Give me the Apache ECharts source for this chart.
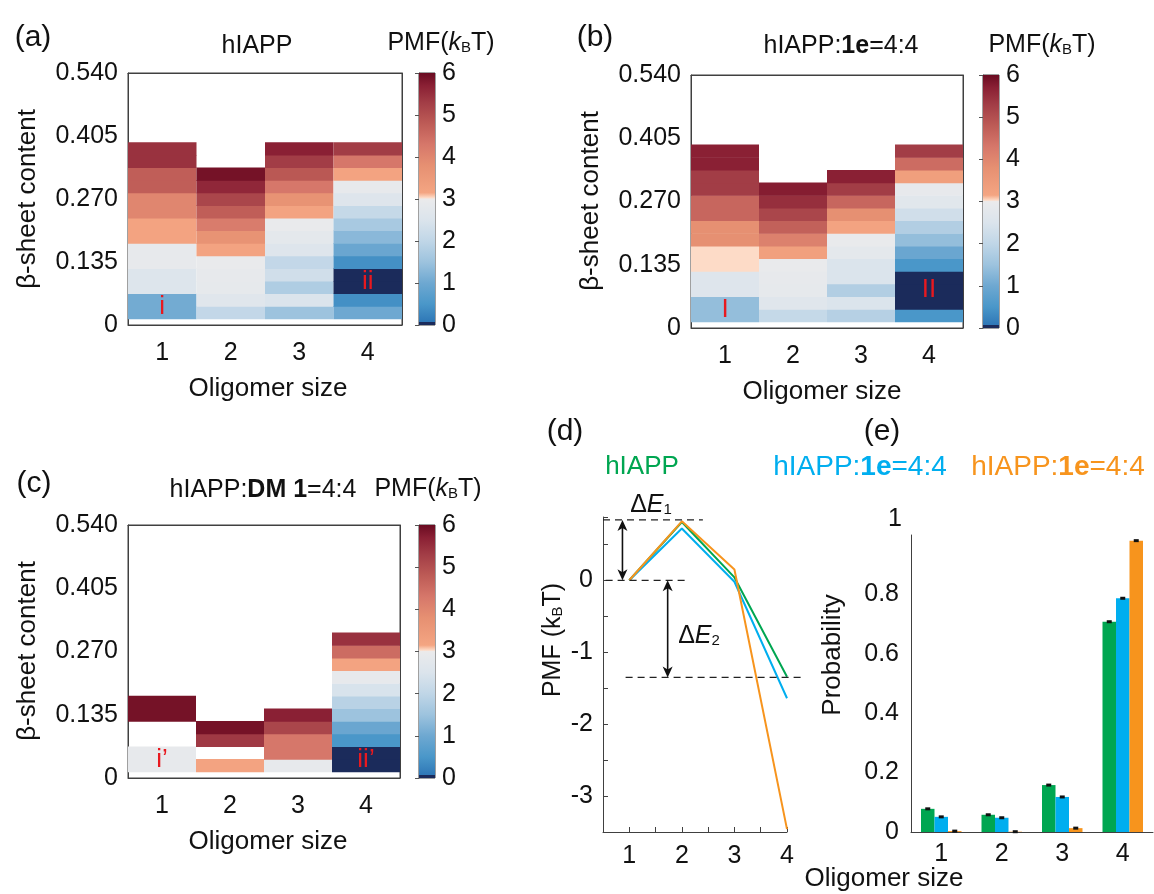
<!DOCTYPE html>
<html>
<head>
<meta charset="utf-8">
<title>hIAPP oligomer PMF</title>
<script src="https://cdn.jsdelivr.net/npm/echarts@6/dist/echarts.min.js"></script>
<style>
  html, body { margin: 0; padding: 0; background: #fff; }
  #chart { width: 1154px; height: 894px; }
</style>
</head>
<body>
<div id="chart"></div>
<script>
// ---------- data ----------
var sizes = ['1', '2', '3', '4'];
// beta-sheet bins (centres), width 0.027
var binCenters = [0.027, 0.054, 0.081, 0.108, 0.135, 0.162, 0.189, 0.216, 0.243, 0.270, 0.297, 0.324, 0.351, 0.378];
var binWidth = 0.027;

// PMF (kBT) per oligomer size, bottom bin first; null = no sampling
var pmfHiapp = [
  [1.05, 1.05, 2.55, 2.55, 2.9, 2.9, 3.2, 3.2, 4.0, 4.0, 4.75, 4.75, 5.45, 5.45],
  [2.05, 2.65, 2.85, 2.9, 2.95, 3.2, 3.7, 4.2, 4.75, 5.15, 5.6, 5.9],
  [1.5, 2.5, 1.75, 2.3, 2.05, 2.6, 2.8, 2.95, 3.2, 3.7, 4.3, 4.85, 5.3, 5.7],
  [1.0, 0.4, 0, 0, 0.4, 0.95, 1.3, 1.65, 2.1, 2.6, 2.9, 3.2, 4.3, 5.3]
];
var pmf1e = [
  [1.4, 1.4, 2.6, 2.6, 3.03, 3.03, 3.8, 3.8, 4.6, 4.6, 5.3, 5.3, 5.7, 5.7],
  [2.1, 2.65, 2.85, 2.9, 2.95, 3.3, 4.1, 4.7, 5.15, 5.5, 5.75],
  [1.85, 2.5, 1.8, 2.5, 2.5, 2.8, 2.95, 3.2, 3.8, 4.6, 5.3, 5.7],
  [0.5, 0, 0, 0, 0.5, 0.95, 1.4, 1.8, 2.3, 2.7, 2.9, 3.35, 4.5, 5.3]
];
var pmfDm1 = [
  [2.9, 2.9, null, null, 5.9, 5.9],
  [3.2, null, 5.35, 5.9],
  [2.9, 4.3, 4.3, 5.15, 5.7],
  [0, 0, 0.5, 0.95, 1.5, 1.9, 2.45, 2.9, 3.2, 4.5, 5.45]
];
var marksHiapp = [[0, 0.039, 'i'], [3, 0.092, 'ii']];
var marks1e = [[0, 0.039, 'I'], [3, 0.081, 'II']];
var marksDm1 = [[0, 0.039, 'i\u2019'], [3, 0.039, 'ii\u2019']];

// (d) PMF vs oligomer size
var lineSizes = [1, 2, 3, 4];
var lineHiapp = [0, 0.81, 0.04, -1.34];
var line1e = [0, 0.72, -0.02, -1.64];
var line1eB = [0, 0.82, 0.15, -3.46];
var refLines = [[0.5, 0.84, 2.4, 0.84], [0.55, 0, 2.1, 0], [0.93, -1.35, 4.35, -1.35]];
var arrows = [[0.87, 0.84, 0], [1.73, 0, -1.35]];

// (e) probability
var probHiapp = [0.078, 0.058, 0.158, 0.708];
var prob1e = [0.051, 0.048, 0.118, 0.787];
var prob1eB = [0.003, 0.001, 0.013, 0.981];

// ---------- colours ----------
var green = '#00a651', blue = '#00aeef', orange = '#f7941d', red = '#e8191f';
var ink = '#111', frame = '#404040';
var FONT = 'Liberation Sans';

var cmapStops = [
  [0, '#1b2b5b'], [0.06, '#1b2b5b'], [0.08, '#2f78b7'], [0.5, '#4a97c9'], [1.0, '#6ea8d1'],
  [1.5, '#9dc3de'], [2.0, '#c0d6e7'], [2.5, '#dbe4ec'], [2.95, '#e9eaec'], [3.0, '#eceaea'],
  [3.03, '#fddbc7'], [3.15, '#f4a582'], [3.8, '#e69072'], [4.3, '#d6776a'], [4.8, '#bd5b56'],
  [5.3, '#a23d46'], [5.7, '#8a2034'], [6.0, '#6a0b21']
];
function hexRgb(h) {
  return [parseInt(h.slice(1, 3), 16), parseInt(h.slice(3, 5), 16), parseInt(h.slice(5, 7), 16)];
}
function pmfColor(v) {
  for (var i = 1; i < cmapStops.length; i++) {
    if (v <= cmapStops[i][0]) {
      var a = cmapStops[i - 1], b = cmapStops[i];
      var t = (v - a[0]) / (b[0] - a[0]);
      var ca = hexRgb(a[1]), cb = hexRgb(b[1]);
      return 'rgb(' + ca.map(function (x, j) { return Math.round(x + (cb[j] - x) * t); }).join(',') + ')';
    }
  }
  return cmapStops[cmapStops.length - 1][1];
}

// ---------- layout ----------
var grids = [
  {left: 128, top: 73, width: 274, height: 252},   // 0 a
  {left: 419, top: 73, width: 16, height: 252},    // 1 a colorbar
  {left: 691, top: 75, width: 272, height: 253},   // 2 b
  {left: 983, top: 75, width: 16, height: 253},    // 3 b colorbar
  {left: 128, top: 525, width: 272, height: 253},  // 4 c
  {left: 419, top: 525, width: 16, height: 253},   // 5 c colorbar
  {left: 603, top: 517, width: 184, height: 315},  // 6 d
  {left: 911, top: 535, width: 242, height: 297}   // 7 e
];
grids.forEach(function (g, i) {
  g.show = (i <= 5);
  g.borderColor = frame;
  g.borderWidth = 1;
  g.containLabel = false;
});

var xAxes = [], yAxes = [], series = [];
var lineAx = {show: true, onZero: false, lineStyle: {color: frame, width: 1}};
var lbl = {color: ink, fontSize: 25, fontFamily: FONT};

function heatPanel(gi, cols, marks) {
  var xi = xAxes.length, yi = yAxes.length;
  xAxes.push({gridIndex: gi, type: 'category', data: sizes, axisLine: lineAx,
    axisTick: {inside: true, alignWithLabel: true, length: 5, lineStyle: {color: frame}},
    axisLabel: Object.assign({margin: 16}, lbl)});
  xAxes.push({gridIndex: gi, type: 'category', data: sizes, position: 'top', axisLine: lineAx,
    axisTick: {inside: true, alignWithLabel: true, length: 5, lineStyle: {color: frame}},
    axisLabel: {show: false}});
  yAxes.push({gridIndex: gi, type: 'value', min: 0, max: 0.54, interval: 0.135, axisLine: lineAx,
    axisTick: {inside: true, length: 5, lineStyle: {color: frame}}, splitLine: {show: false},
    axisLabel: Object.assign({margin: 10, formatter: function (v) { return v === 0 ? '0' : v.toFixed(3); }}, lbl)});
  yAxes.push({gridIndex: gi, type: 'value', min: 0, max: 0.54, interval: 0.135, position: 'right', axisLine: lineAx,
    axisTick: {inside: true, length: 5, lineStyle: {color: frame}}, splitLine: {show: false}, axisLabel: {show: false}});
  var cells = [];
  cols.forEach(function (col, c) {
    col.forEach(function (v, k) { if (v !== null) cells.push([c, binCenters[k], v]); });
  });
  series.push({type: 'custom', xAxisIndex: xi, yAxisIndex: yi, data: cells, z: 1,
    renderItem: function (params, api) {
      var p = api.coord([api.value(0), api.value(1) + binWidth / 2]);
      var s = api.size([1, binWidth]);
      return {type: 'rect', shape: {x: p[0] - s[0] / 2, y: p[1], width: s[0], height: s[1] + 0.6},
        style: {fill: pmfColor(api.value(2))}};
    }});
  series.push({type: 'custom', xAxisIndex: xi, yAxisIndex: yi, data: marks, z: 3,
    renderItem: function (params, api) {
      var p = api.coord([api.value(0), api.value(1)]);
      return {type: 'text', x: p[0], y: p[1],
        style: {text: marks[params.dataIndex][2], fill: red, fontSize: 26, fontFamily: FONT,
          align: 'center', verticalAlign: 'middle'}};
    }});
}

function colorbar(gi) {
  var xi = xAxes.length, yi = yAxes.length;
  xAxes.push({gridIndex: gi, type: 'value', min: 0, max: 1, show: false});
  yAxes.push({gridIndex: gi, type: 'value', min: 0, max: 6, interval: 1, position: 'right',
    axisLine: {show: true, lineStyle: {color: '#666'}},
    axisTick: {inside: true, length: 4, lineStyle: {color: '#555'}}, splitLine: {show: false},
    axisLabel: Object.assign({margin: 7}, lbl)});
  series.push({type: 'custom', xAxisIndex: xi, yAxisIndex: yi, data: [[0, 0]], z: 1,
    renderItem: function (params) {
      var cs = params.coordSys;
      return {type: 'rect', shape: {x: cs.x, y: cs.y, width: cs.width, height: cs.height},
        style: {fill: new echarts.graphic.LinearGradient(0, 1, 0, 0,
          cmapStops.map(function (s) { return {offset: s[0] / 6, color: s[1]}; }))}};
    }});
}

heatPanel(0, pmfHiapp, marksHiapp);
colorbar(1);
heatPanel(2, pmf1e, marks1e);
colorbar(3);
heatPanel(4, pmfDm1, marksDm1);
colorbar(5);

// (d)
var dx = xAxes.length, dy = yAxes.length;
xAxes.push({gridIndex: 6, type: 'value', min: 0.5, max: 4, interval: 0.5, axisLine: lineAx,
  axisTick: {inside: true, length: 5, lineStyle: {color: frame}}, splitLine: {show: false},
  axisLabel: Object.assign({margin: 12, formatter: function (v) { return v % 1 === 0 ? String(v) : ''; }}, lbl)});
yAxes.push({gridIndex: 6, type: 'value', min: -3.5, max: 0.88, interval: 0.5, axisLine: lineAx,
  axisTick: {inside: true, length: 5, lineStyle: {color: frame}}, splitLine: {show: false},
  axisLabel: Object.assign({margin: 10, formatter: function (v) { return v % 1 === 0 ? String(v) : ''; }}, lbl)});
[[lineHiapp, green], [line1e, blue], [line1eB, orange]].forEach(function (s) {
  series.push({type: 'line', xAxisIndex: dx, yAxisIndex: dy, symbol: 'none', z: 2,
    data: lineSizes.map(function (x, i) { return [x, s[0][i]]; }),
    lineStyle: {color: s[1], width: 2}, itemStyle: {color: s[1]}});
});
series.push({type: 'custom', xAxisIndex: dx, yAxisIndex: dy, data: refLines, z: 3, clip: false,
  renderItem: function (params, api) {
    var a = api.coord([api.value(0), api.value(1)]);
    var b = api.coord([api.value(2), api.value(3)]);
    return {type: 'line', shape: {x1: a[0], y1: a[1], x2: b[0], y2: b[1]},
      style: {stroke: '#222', lineWidth: 1.2, lineDash: [7, 5]}};
  }});
series.push({type: 'custom', xAxisIndex: dx, yAxisIndex: dy, data: arrows, z: 3, clip: false,
  renderItem: function (params, api) {
    var a = api.coord([api.value(0), api.value(1)]);
    var b = api.coord([api.value(0), api.value(2)]);
    var h = 11, w = 5;
    return {type: 'group', children: [
      {type: 'line', shape: {x1: a[0], y1: a[1] + 4, x2: b[0], y2: b[1] - 4}, style: {stroke: '#111', lineWidth: 1.6}},
      {type: 'polygon', shape: {points: [[a[0], a[1]], [a[0] - w, a[1] + h], [a[0], a[1] + h - 3], [a[0] + w, a[1] + h]]}, style: {fill: '#111'}},
      {type: 'polygon', shape: {points: [[b[0], b[1]], [b[0] - w, b[1] - h], [b[0], b[1] - h + 3], [b[0] + w, b[1] - h]]}, style: {fill: '#111'}}
    ]};
  }});

// (e)
var ex = xAxes.length, ey = yAxes.length;
xAxes.push({gridIndex: 7, type: 'category', data: sizes, axisLine: lineAx, axisTick: {show: false},
  axisLabel: Object.assign({margin: 10}, lbl)});
yAxes.push({gridIndex: 7, type: 'value', min: 0, max: 1, interval: 0.2, axisLine: lineAx,
  axisTick: {inside: true, length: 5, lineStyle: {color: frame}}, splitLine: {show: false},
  axisLabel: Object.assign({margin: 12, formatter: function (v) {
    return v === 0 ? '0' : (v >= 1 ? '' : v.toFixed(1)); }}, lbl)});
var barW = 13.5;
[[probHiapp, green], [prob1e, blue], [prob1eB, orange]].forEach(function (s) {
  series.push({type: 'bar', xAxisIndex: ex, yAxisIndex: ey, data: s[0], barWidth: barW, barGap: '0%',
    itemStyle: {color: s[1]}, z: 2});
});
var errMarks = [];
[probHiapp, prob1e, prob1eB].forEach(function (arr, si) {
  arr.forEach(function (v, ci) { errMarks.push([ci, v, si]); });
});
series.push({type: 'custom', xAxisIndex: ex, yAxisIndex: ey, data: errMarks, z: 4,
  renderItem: function (params, api) {
    var p = api.coord([api.value(0), api.value(1)]);
    var off = (api.value(2) - 1) * barW;
    return {type: 'rect', shape: {x: p[0] + off - 2.5, y: p[1] - 1.5, width: 5, height: 3}, style: {fill: '#111'}};
  }});

// ---------- text ----------
function txt(x, y, text, size, extra) {
  var st = {text: text, x: 0, y: 0, fill: ink, fontSize: size, fontFamily: FONT,
    align: 'center', verticalAlign: 'middle'};
  var el = {type: 'text', x: x, y: y, style: st, z: 10};
  if (extra) {
    if (extra.rotation) el.rotation = extra.rotation;
    if (extra.fill) st.fill = extra.fill;
    if (extra.rich) st.rich = extra.rich;
  }
  return el;
}
function pmfRich(col, size) {
  var fs = size || 25;
  return {
    i: {fontSize: fs, fontFamily: FONT, fontStyle: 'italic', fill: col || ink},
    s: {fontSize: Math.round(fs * 0.6), fontFamily: FONT, verticalAlign: 'bottom', fill: col || ink},
    b: {fontSize: fs, fontFamily: FONT, fontWeight: 'bold', fill: col || ink}
  };
}
var vert = Math.PI / 2;
var graphics = [
  txt(33, 38, '(a)', 30), txt(595, 38, '(b)', 30), txt(34, 484, '(c)', 30),
  txt(565, 432, '(d)', 30), txt(882, 432, '(e)', 30),
  txt(257, 46, 'hIAPP', 25),
  txt(841, 46, 'hIAPP:{b|1e}=4:4', 25, {rich: pmfRich()}),
  txt(263, 490, 'hIAPP:{b|DM 1}=4:4', 25, {rich: pmfRich()}),
  txt(441, 43, 'PMF({i|k}{s|B}T)', 25, {rich: pmfRich()}),
  txt(1042, 45, 'PMF({i|k}{s|B}T)', 25, {rich: pmfRich()}),
  txt(428, 489, 'PMF({i|k}{s|B}T)', 25, {rich: pmfRich()}),
  txt(28, 199, '\u03b2-sheet content', 26, {rotation: vert}),
  txt(591, 201, '\u03b2-sheet content', 26, {rotation: vert}),
  txt(28, 651, '\u03b2-sheet content', 26, {rotation: vert}),
  txt(268, 389, 'Oligomer size', 26), txt(822, 392, 'Oligomer size', 26),
  txt(268, 842, 'Oligomer size', 26), txt(884, 879, 'Oligomer size', 26),
  txt(642, 467, 'hIAPP', 26, {fill: green}),
  txt(860, 467, 'hIAPP:{b|1e}=4:4', 28, {fill: blue, rich: pmfRich(blue, 28)}),
  txt(1058, 467, 'hIAPP:{b|1e}=4:4', 28, {fill: orange, rich: pmfRich(orange, 28)}),
  txt(553, 640, 'PMF (k{s|B}T)', 25, {rotation: vert, rich: pmfRich()}),
  txt(833, 655, 'Probability', 26, {rotation: vert}),
  txt(651, 505, '\u0394{i|E}{s|1}', 25, {rich: pmfRich()}),
  txt(699, 636, '\u0394{i|E}{s|2}', 25, {rich: pmfRich()}),
  txt(895, 519, '1', 25)
];

var chart = echarts.init(document.getElementById('chart'), null, {renderer: 'canvas'});
chart.setOption({
  backgroundColor: '#fff',
  animation: false,
  textStyle: {fontFamily: FONT},
  grid: grids,
  xAxis: xAxes,
  yAxis: yAxes,
  series: series,
  graphic: graphics
});
</script>
</body>
</html>
